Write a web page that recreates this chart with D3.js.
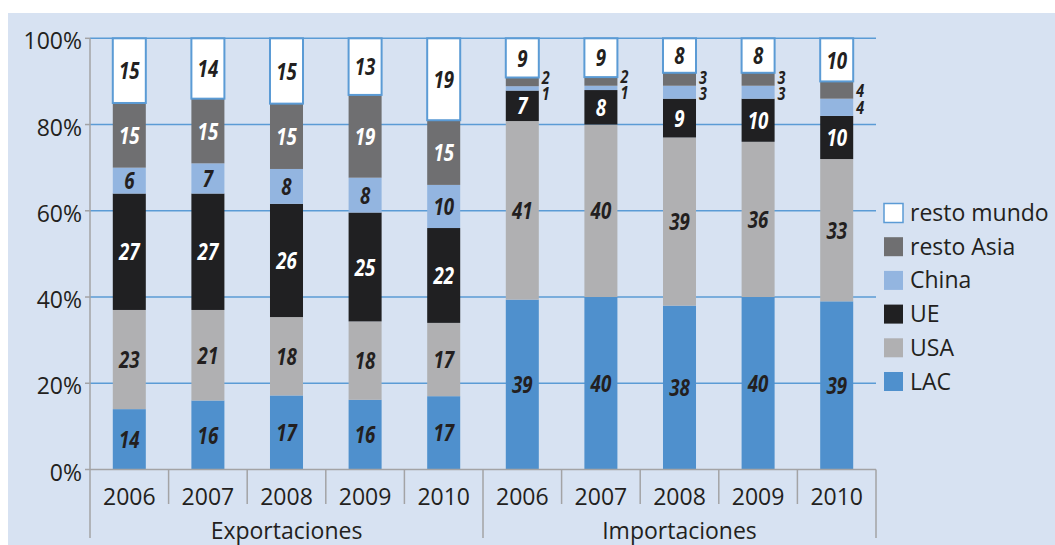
<!DOCTYPE html>
<html>
<head>
<meta charset="utf-8">
<script src="https://cdn.jsdelivr.net/npm/d3@7/dist/d3.min.js"></script>
<style>
  html, body { margin: 0; padding: 0; background: #ffffff; }
  svg { display: block; }
  text { font-family: "Open Sans", "Noto Sans", sans-serif; fill: #231f20; }
</style>
</head>
<body>
<svg id="chart" width="1055" height="545"></svg>
<script>
// Groups, years and regions
const groups = ["Exportaciones", "Importaciones"];
const years = ["2006", "2007", "2008", "2009", "2010"];
const seriesNames = ["LAC", "USA", "UE", "China", "resto Asia", "resto mundo"];

// Shares (%) per column: 5 export years then 5 import years
const lac        = [14, 16, 17, 16, 17, 39, 40, 38, 40, 39];
const usa        = [23, 21, 18, 18, 17, 41, 40, 39, 36, 33];
const ue         = [27, 27, 26, 25, 22,  7,  8,  9, 10, 10];
const china      = [ 6,  7,  8,  8, 10,  1,  1,  3,  3,  4];
const restoAsia  = [15, 15, 15, 19, 15,  2,  2,  3,  3,  4];
const restoMundo = [15, 14, 15, 13, 19,  9,  9,  8,  8, 10];

const yTicks = [0, 0.2, 0.4, 0.6, 0.8, 1];

const colors = {
  "LAC": "#4f90cd",
  "USA": "#b0b0b2",
  "UE": "#202022",
  "China": "#93b5e0",
  "resto Asia": "#6f6f71",
  "resto mundo": "#ffffff"
};
const labelColors = {
  "LAC": "#231f20", "USA": "#231f20", "UE": "#ffffff",
  "China": "#231f20", "resto Asia": "#ffffff", "resto mundo": "#231f20"
};
const valuesBySeries = [lac, usa, ue, china, restoAsia, restoMundo];

const columns = [];
groups.forEach((g, gi) => years.forEach((yr, yi) => {
  const i = gi * years.length + yi;
  const row = { key: i, group: g, year: yr };
  seriesNames.forEach((s, si) => row[s] = valuesBySeries[si][i]);
  columns.push(row);
}));

const svg = d3.select("#chart");

// background panel
svg.append("rect").attr("x", 8).attr("y", 13).attr("width", 1047).attr("height", 532)
  .attr("fill", "#d7e2f2");

const plotLeft = 90, plotRight = 876, plotTop = 38.3, plotBottom = 469.5;

const x = d3.scaleBand().domain(columns.map(d => d.key)).range([plotLeft, plotRight])
  .paddingInner(0.58).paddingOuter(0.29);
const y = d3.scaleLinear().domain([0, 1]).range([plotBottom, plotTop]);

const stack = d3.stack().keys(seriesNames).offset(d3.stackOffsetExpand);
const stacked = stack(columns);

// gridlines
svg.append("g").selectAll("line").data(yTicks.filter(t => t > 0)).join("line")
  .attr("x1", plotLeft).attr("x2", plotRight)
  .attr("y1", d => y(d)).attr("y2", d => y(d))
  .attr("stroke", "#5b9bd5").attr("stroke-width", 1.5);

// bars
const layers = svg.append("g").selectAll("g").data(stacked).join("g")
  .attr("fill", d => colors[d.key]);
layers.selectAll("rect").data(d => d.map(v => ({ v, key: d.key }))).join("rect")
  .attr("x", d => x(d.v.data.key))
  .attr("width", x.bandwidth())
  .attr("y", d => y(d.v[1]))
  .attr("height", d => y(d.v[0]) - y(d.v[1]))
  .attr("stroke", d => d.key === "resto mundo" ? "#5b9bd5" : "none")
  .attr("stroke-width", 2);

// value labels
const labelFont = "italic 700 24px 'Open Sans', sans-serif";
const labels = svg.append("g");
columns.forEach(col => {
  const outside = [];
  stacked.forEach(layer => {
    const v = layer[col.key];
    const val = col[layer.key];
    const cy = (y(v[0]) + y(v[1])) / 2;
    if (val < 5) {
      outside.push({ val, cy, key: layer.key });
    } else {
      labels.append("text")
        .attr("transform", `translate(${x(col.key) + x.bandwidth() / 2},${cy}) scale(0.78,1)`)
        .attr("text-anchor", "middle").attr("dy", "0.36em")
        .style("font", labelFont)
        .style("fill", labelColors[layer.key])
        .text(val);
    }
  });
  // small shares are written beside the bar, kept apart vertically
  if (outside.length === 2) {
    const minGap = 16;
    const [a, b] = outside; // a lower (China), b upper (resto Asia)
    if (a.cy - b.cy < minGap) {
      const mid = (a.cy + b.cy) / 2;
      a.cy = mid + minGap / 2; b.cy = mid - minGap / 2;
    }
  }
  outside.forEach(o => {
    labels.append("text")
      .attr("transform", `translate(${x(col.key) + x.bandwidth() + 3},${o.cy}) scale(0.8,1)`)
      .attr("text-anchor", "start").attr("dy", "0.36em")
      .style("font", "italic 700 18px 'Open Sans', sans-serif")
      .text(o.val);
  });
});

// y axis
const axisColor = "#a3a3a5";
svg.append("line").attr("x1", plotLeft).attr("x2", plotLeft).attr("y1", plotTop).attr("y2", plotBottom)
  .attr("stroke", axisColor).attr("stroke-width", 1.5);
const yt = svg.append("g").selectAll("g").data(yTicks).join("g");
yt.append("line").attr("x1", plotLeft - 5).attr("x2", plotLeft)
  .attr("y1", d => y(d)).attr("y2", d => y(d))
  .attr("stroke", axisColor).attr("stroke-width", 1.5);
yt.append("text").attr("x", plotLeft - 8).attr("y", d => y(d) + 3)
  .attr("dy", "0.35em").attr("text-anchor", "end")
  .style("font-size", "23px")
  .text(d => d3.format(".0%")(d));

// category axis
svg.append("line").attr("x1", plotLeft).attr("x2", plotRight).attr("y1", plotBottom).attr("y2", plotBottom)
  .attr("stroke", axisColor).attr("stroke-width", 1.5);
const step = x.step();
const seps = d3.range(columns.length + 1);
svg.append("g").selectAll("line").data(seps).join("line")
  .attr("x1", i => plotLeft + i * step).attr("x2", i => plotLeft + i * step)
  .attr("y1", plotBottom)
  .attr("y2", i => i % years.length === 0 ? 538 : 504)
  .attr("stroke", axisColor).attr("stroke-width", 1.5);
svg.append("g").selectAll("text").data(columns).join("text")
  .attr("x", d => x(d.key) + x.bandwidth() / 2).attr("y", 505)
  .attr("text-anchor", "middle").style("font-size", "23px")
  .text(d => d.year);
svg.append("g").selectAll("text").data(groups).join("text")
  .attr("x", (g, gi) => plotLeft + (gi + 0.5) * years.length * step).attr("y", 539)
  .attr("text-anchor", "middle").style("font-size", "23px")
  .text(g => g);

// legend
const legendOrder = seriesNames.slice().reverse();
const lg = svg.append("g").selectAll("g").data(legendOrder).join("g")
  .attr("transform", (d, i) => `translate(884,${213 + i * 33.7})`);
lg.append("rect").attr("x", 0).attr("y", -9.5).attr("width", 19).attr("height", 19)
  .attr("fill", d => colors[d])
  .attr("stroke", d => d === "resto mundo" ? "#5b9bd5" : "none").attr("stroke-width", 1.5);
lg.append("text").attr("x", 26).attr("y", 0).attr("dy", "0.35em")
  .style("font-size", "23px").text(d => d);
</script>
</body>
</html>
